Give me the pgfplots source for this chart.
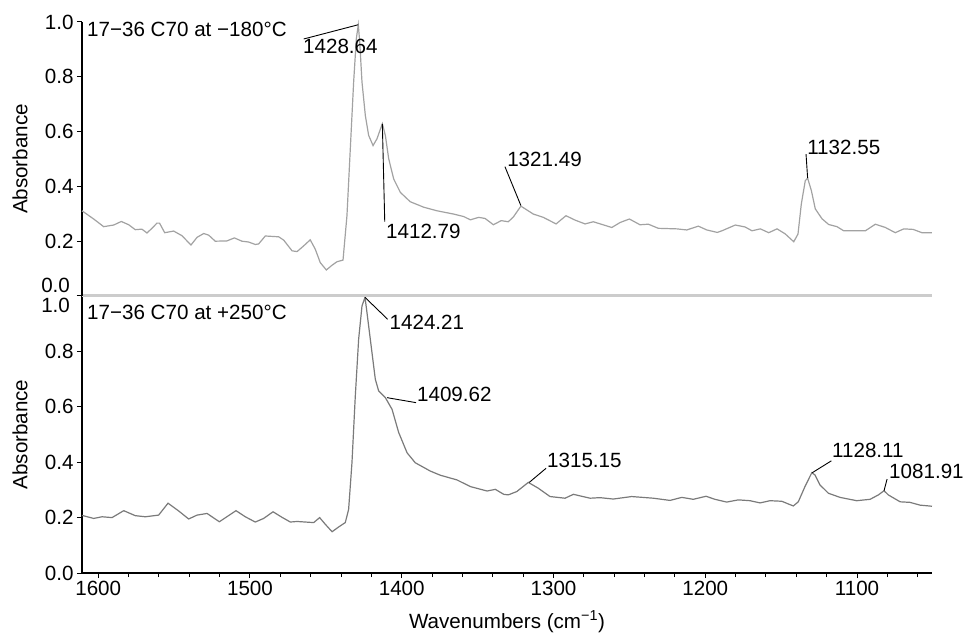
\documentclass[border=0pt]{standalone}
\usepackage{fontspec}
\setmainfont{Liberation Sans}
\usepackage{pgfplots}
\pgfplotsset{compat=1.18}
\definecolor{topgray}{HTML}{A2A2A2}
\definecolor{botgray}{HTML}{7A7A7A}
\definecolor{sepgray}{HTML}{CCCCCC}
\newcommand{\fs}{\fontsize{20.6bp}{24bp}\selectfont}

\pgfplotstableread{
wn A
1610.7 0.311
1603.0 0.281
1596.4 0.253
1589.8 0.259
1584.8 0.272
1579.9 0.260
1575.6 0.242
1571.2 0.244
1567.9 0.230
1564.6 0.247
1561.3 0.266
1559.6 0.266
1556.2 0.231
1550.3 0.237
1544.8 0.220
1538.9 0.186
1534.9 0.214
1530.5 0.228
1527.2 0.222
1522.9 0.200
1515.2 0.201
1510.3 0.212
1505.3 0.200
1500.9 0.197
1496.5 0.188
1494.3 0.190
1489.9 0.219
1481.1 0.216
1477.8 0.204
1472.3 0.165
1469.0 0.162
1464.6 0.183
1460.3 0.205
1457.0 0.171
1453.7 0.122
1449.7 0.095
1446.0 0.112
1442.7 0.125
1438.7 0.131
1436.1 0.293
1433.9 0.537
1431.7 0.781
1429.9 0.940
1428.64 0.990
1427.7 0.928
1426.2 0.781
1424.0 0.659
1421.8 0.586
1418.9 0.549
1416.3 0.574
1412.79 0.629
1410.8 0.586
1408.6 0.501
1405.3 0.427
1400.9 0.378
1394.4 0.344
1385.5 0.324
1376.8 0.311
1365.8 0.299
1359.2 0.290
1354.8 0.278
1349.3 0.287
1345.1 0.283
1339.6 0.260
1334.5 0.275
1329.8 0.271
1326.5 0.288
1321.49 0.328
1313.3 0.299
1306.7 0.287
1298.3 0.263
1291.8 0.293
1285.8 0.277
1279.2 0.263
1273.8 0.271
1261.6 0.250
1256.2 0.268
1250.0 0.281
1243.0 0.260
1237.5 0.262
1230.9 0.247
1218.8 0.245
1212.2 0.241
1204.6 0.255
1199.0 0.241
1192.1 0.232
1189.0 0.238
1180.2 0.259
1173.8 0.252
1169.2 0.238
1163.7 0.245
1158.2 0.231
1152.7 0.245
1147.4 0.227
1141.7 0.198
1138.9 0.226
1136.7 0.336
1134.1 0.421
1132.55 0.430
1130.1 0.385
1127.5 0.318
1123.1 0.282
1118.7 0.261
1113.2 0.253
1108.8 0.238
1094.5 0.238
1087.9 0.262
1081.3 0.250
1074.8 0.231
1069.2 0.245
1063.0 0.243
1057.2 0.231
1050.6 0.231
}\toptable

\pgfplotstableread{
wn A
1610.7 0.208
1603.0 0.197
1597.5 0.203
1590.9 0.200
1583.2 0.225
1575.6 0.207
1569.0 0.203
1560.2 0.209
1554.0 0.252
1547.0 0.224
1540.4 0.195
1534.9 0.209
1528.3 0.215
1520.2 0.185
1509.2 0.225
1503.1 0.203
1496.5 0.184
1491.0 0.197
1484.8 0.221
1478.9 0.201
1473.4 0.184
1469.0 0.186
1458.0 0.182
1454.1 0.200
1450.4 0.176
1445.9 0.149
1441.6 0.166
1437.2 0.182
1435.0 0.230
1432.8 0.398
1430.6 0.639
1428.4 0.844
1426.2 0.964
1424.21 0.995
1422.9 0.940
1419.6 0.795
1417.4 0.699
1415.2 0.657
1410.8 0.633
1406.4 0.591
1402.0 0.507
1396.5 0.434
1391.1 0.398
1381.2 0.368
1374.6 0.353
1363.6 0.336
1354.8 0.312
1343.8 0.296
1338.3 0.302
1332.8 0.284
1329.8 0.282
1324.2 0.294
1316.6 0.327
1310.0 0.306
1302.3 0.276
1292.4 0.270
1286.9 0.284
1275.9 0.270
1269.4 0.272
1260.6 0.267
1248.5 0.276
1234.2 0.270
1223.2 0.262
1215.5 0.273
1207.9 0.266
1199.5 0.277
1193.6 0.266
1185.9 0.256
1178.2 0.264
1170.5 0.261
1163.9 0.253
1157.3 0.261
1149.6 0.259
1142.0 0.242
1138.7 0.257
1134.3 0.312
1129.8 0.362
1127.7 0.354
1124.4 0.318
1118.9 0.288
1111.2 0.273
1100.2 0.261
1091.4 0.266
1085.9 0.282
1082.2 0.297
1079.4 0.282
1071.6 0.257
1065.1 0.255
1058.5 0.245
1050.6 0.241
}\bottable

\pgfplotsset{
  spec/.style={
    scale only axis, width=850bp, anchor=south west,
    xmin=1050.6, xmax=1610.7, x dir=reverse, ymin=0, ymax=1,
    axis x line*=bottom, axis y line*=left,
    tick align=outside, major tick length=5bp, minor tick length=4bp,
    every tick/.style={black, line width=1bp},
    y axis line style={line width=2.5bp, black, -},
    tick label style={font=\fs},
    label style={font=\fs},
    ylabel={Absorbance},
    ylabel style={at={(axis description cs:-0.073,0.5)}, anchor=center},
    clip=false,
  },
}
\tikzset{
  ann/.style={anchor=west, inner sep=0pt, font=\fs, text=black},
  lead/.style={black, line width=0.9bp},
}

\begin{document}
\begin{tikzpicture}
\useasboundingbox (0,0) rectangle (965bp,635bp);
% bottom panel
\begin{axis}[spec, at={(82bp,62bp)}, height=277bp,
  x axis line style={line width=2.5bp, black, -},
  xtick={1100,1200,1300,1400,1500,1600},
  xticklabels={1100,1200,1300,1400,1500,1600},
  minor xtick={1060,1080,...,1600},
  xlabel={Wavenumbers (cm\textsuperscript{−1})},
  xlabel style={at={(axis description cs:0.5,-0.175)}, anchor=center},
  ytick={0,0.2,0.4,0.6,0.8}, yticklabels={0.0,0.2,0.4,0.6,0.8},
  extra y ticks={1}, extra y tick labels={1.0},
  extra y tick style={yticklabel style={yshift=-9.5bp, inner sep=0pt, xshift=-6.9bp}},
]
\addplot[botgray, line width=1.2bp] table[x=wn, y=A] {\bottable};
\node[ann] at (axis cs:1607.4,0.940) {17−36 C70 at +250°C};
\draw[lead] (axis cs:1424.21,0.995) -- (axis cs:1409.3,0.916);
\node[ann] at (axis cs:1408.1,0.906) {1424.21};
\draw[lead] (axis cs:1409.7,0.633) -- (axis cs:1390.6,0.615);
\node[ann] at (axis cs:1390.0,0.643) {1409.62};
\draw[lead] (axis cs:1316.0,0.327) -- (axis cs:1304.9,0.378);
\node[ann] at (axis cs:1304.3,0.408) {1315.15};
\draw[lead] (axis cs:1129.5,0.362) -- (axis cs:1116.9,0.405);
\node[ann] at (axis cs:1116.5,0.444) {1128.11};
\draw[lead] (axis cs:1082.2,0.297) -- (axis cs:1080.2,0.339);
\node[ann] at (axis cs:1078.9,0.365) {1081.91};
\end{axis}
% top panel
\begin{axis}[spec, at={(82bp,339bp)}, height=274bp,
  x axis line style={draw=sepgray, line width=3bp, -},
  xtick=\empty,
  ytick={0.2,0.4,0.6,0.8,1.0}, yticklabels={0.2,0.4,0.6,0.8,1.0},
  extra y ticks={0}, extra y tick labels={0.0},
  extra y tick style={yticklabel style={yshift=10.5bp, inner sep=0pt, xshift=-6.9bp}},
]
\addplot[topgray, line width=1.2bp] table[x=wn, y=A] {\toptable};
\node[ann] at (axis cs:1607.4,0.974) {17−36 C70 at −180°C};
\draw[lead] (axis cs:1428.64,0.99) -- (axis cs:1464.6,0.938);
\node[ann] at (axis cs:1465.1,0.912) {1428.64};
\draw[lead] (axis cs:1412.79,0.628) -- (axis cs:1411.2,0.271);
\node[ann] at (axis cs:1410.4,0.234) {1412.79};
\draw[lead] (axis cs:1321.49,0.33) -- (axis cs:1332.0,0.472);
\node[ann] at (axis cs:1330.6,0.500) {1321.49};
\draw[lead] (axis cs:1132.55,0.43) -- (axis cs:1133.6,0.518);
\node[ann] at (axis cs:1132.9,0.544) {1132.55};
\end{axis}
\end{tikzpicture}
\end{document}
